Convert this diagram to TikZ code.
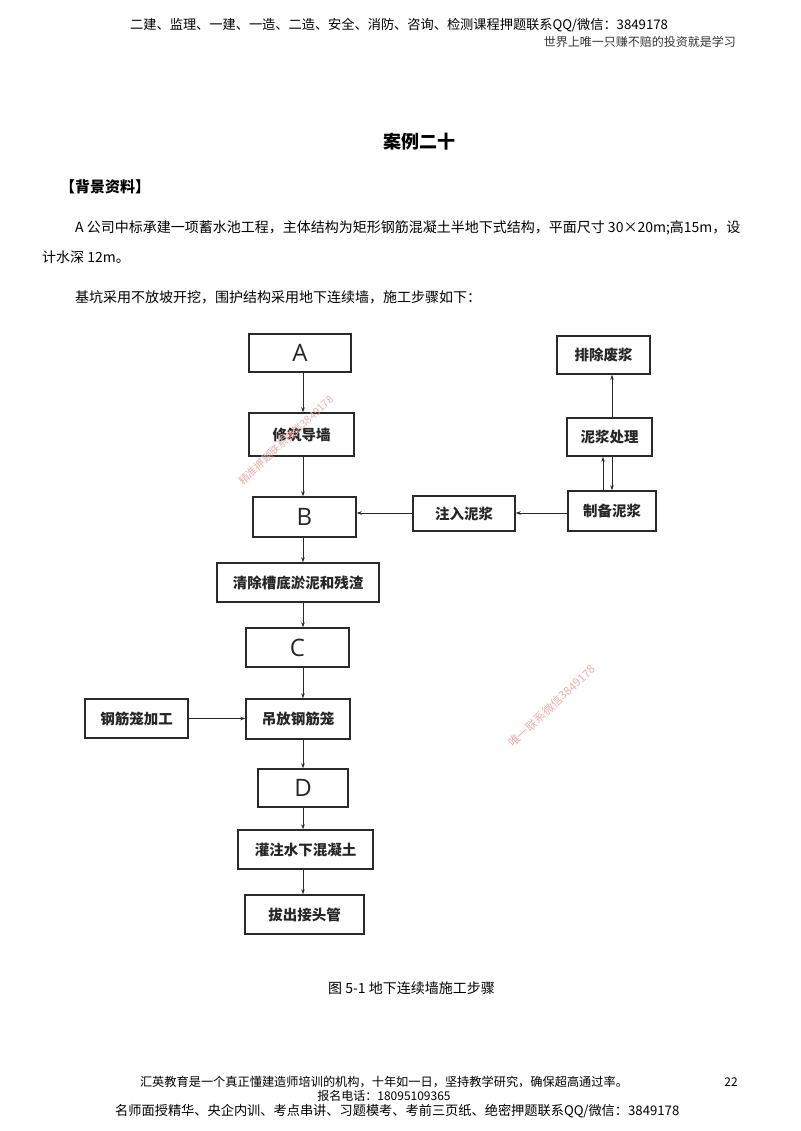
\documentclass[tikz,border=0pt]{standalone}
\usepackage{fontspec}
\setmainfont{Noto Sans CJK SC}
\newfontfamily\cjk{Noto Sans CJK SC}
\newfontfamily\latinf{Open Sans}
\usetikzlibrary{arrows.meta,calc}
\definecolor{boxline}{HTML}{2A2A2A}
\definecolor{wmred}{HTML}{EBB0B0}
\tikzset{
  box/.style={draw=boxline, line width=1.4pt, inner sep=0pt, fill=white},
  lab/.style={font=\cjk\bfseries\fontsize{14.5}{16}\selectfont, text=black!85},
  big/.style={font=\latinf\fontsize{24}{26}\selectfont, text=black!85},
  arr/.style={draw=boxline, line width=0.8pt, -{Stealth[length=5pt,width=3.5pt]}},
  txt/.style={inner sep=0pt, text=black},
  wm/.style={inner sep=0pt, text=wmred, font=\cjk\fontsize{10.5}{11}\selectfont}
}
\begin{document}
\begin{tikzpicture}[x=1pt,y=-1pt]
\useasboundingbox (0,0) rectangle (800,1131);
\fill[white] (0,0) rectangle (800,1131);

% header
\node[txt, font=\cjk\fontsize{13.2}{14}\selectfont, anchor=west] (h1) at (130,25) {二建、监理、一建、一造、二造、安全、消防、咨询、检测课程押题联系QQ/微信：3849178};
\node[txt, font=\cjk\fontsize{12}{13}\selectfont, text=black!80, anchor=east] (h2) at (736,42) {世界上唯一只赚不赔的投资就是学习};

% title and text
\node[txt, font=\cjk\bfseries\fontsize{18}{20}\selectfont] (title) at (419,142) {案例二十};
\node[txt, font=\cjk\bfseries\fontsize{15}{16}\selectfont, anchor=west] (bg) at (60,187) {【背景资料】};
\node[txt, font=\cjk\fontsize{14}{16}\selectfont, anchor=west] (p1) at (75,228) {A 公司中标承建一项蓄水池工程，主体结构为矩形钢筋混凝土半地下式结构，平面尺寸 30×20m;高15m，设};
\node[txt, font=\cjk\fontsize{14}{16}\selectfont, anchor=west] (p2) at (42,257) {计水深 12m。};
\node[txt, font=\cjk\fontsize{14}{16}\selectfont, anchor=west] (p3) at (75,297) {基坑采用不放坡开挖，围护结构采用地下连续墙，施工步骤如下：};

% main column
\coordinate (X) at (303,0);
\node[box, minimum width=102, minimum height=38, big] (A) at (300,353) {A};
\node[box, minimum width=105, minimum height=43, lab] (xz) at (301.5,434.5) {修筑导墙};
\node[box, minimum width=103, minimum height=40, big] (B) at (304.5,517) {B};
\node[box, minimum width=162, minimum height=39, lab] (qc) at (298,582.5) {清除槽底淤泥和残渣};
\node[box, minimum width=103, minimum height=39, big] (C) at (297.5,647.5) {C};
\node[box, minimum width=104, minimum height=40, lab] (df) at (298,719) {吊放钢筋笼};
\node[box, minimum width=90, minimum height=38, big] (D) at (303,788) {D};
\node[box, minimum width=135, minimum height=39, lab] (gz) at (305.5,849.5) {灌注水下混凝土};
\node[box, minimum width=119, minimum height=39, lab] (bc) at (304.5,914.5) {拔出接头管};

% side boxes
\node[box, minimum width=103, minimum height=39, lab] (gj) at (136.5,718.5) {钢筋笼加工};
\node[box, minimum width=102, minimum height=35, lab] (zr) at (464,513.5) {注入泥浆};
\node[box, minimum width=88, minimum height=40, lab] (zb) at (612,511) {制备泥浆};
\node[box, minimum width=85, minimum height=38, lab] (nj) at (609.5,437) {泥浆处理};
\node[box, minimum width=93, minimum height=38, lab] (pc) at (603.5,355) {排除废浆};

% main arrows
\draw[arr] (A.south -| X) -- (xz.north -| X);
\draw[arr] (xz.south -| X) -- (B.north -| X);
\draw[arr] (B.south -| X) -- (qc.north -| X);
\draw[arr] (qc.south -| X) -- (C.north -| X);
\draw[arr] (C.south -| X) -- (df.north -| X);
\draw[arr] (df.south -| X) -- (D.north -| X);
\draw[arr] (D.south -| X) -- (gz.north -| X);
\draw[arr] (gz.south -| X) -- (bc.north -| X);

% side arrows
\coordinate (Y) at (0,513);
\draw[arr] (zb.west |- Y) -- (zr.east |- Y);
\draw[arr] (zr.west |- Y) -- (B.east |- Y);
\draw[arr] (gj.east) -- (df.west |- gj.east);
\coordinate (L) at (603,0);
\coordinate (R) at (612,0);
\draw[arr] (zb.north -| L) -- (nj.south -| L);
\draw[arr] (nj.south -| R) -- (zb.north -| R);
\draw[arr] (nj.north -| R) -- (pc.south -| R);

% watermarks (drawn over the boxes, as in the reference)
\node[wm, rotate=43] (w1) at (286,440) {精准押题联系微信3849178};
\node[wm, rotate=43, font=\cjk\fontsize{11.5}{12}\selectfont] (w2) at (552,706) {唯一联系微信3849178};

% caption
\node[txt, font=\cjk\fontsize{14}{15}\selectfont, anchor=west] (cap) at (328,988) {图 5-1 地下连续墙施工步骤};

% footer
\node[txt, font=\cjk\fontsize{12.2}{13}\selectfont] (f1) at (384,1082) {汇英教育是一个真正懂建造师培训的机构，十年如一日，坚持教学研究，确保超高通过率。};
\node[txt, font=\cjk\fontsize{12}{13}\selectfont] (f2) at (384,1096) {报名电话：18095109365};
\node[txt, font=\cjk\fontsize{13.2}{14}\selectfont, anchor=west] (f3) at (115,1111) {名师面授精华、央企内训、考点串讲、习题模考、考前三页纸、绝密押题联系QQ/微信：3849178};
\node[txt, font=\cjk\fontsize{12}{13}\selectfont] (pg) at (731,1082) {22};
\end{tikzpicture}
\end{document}
